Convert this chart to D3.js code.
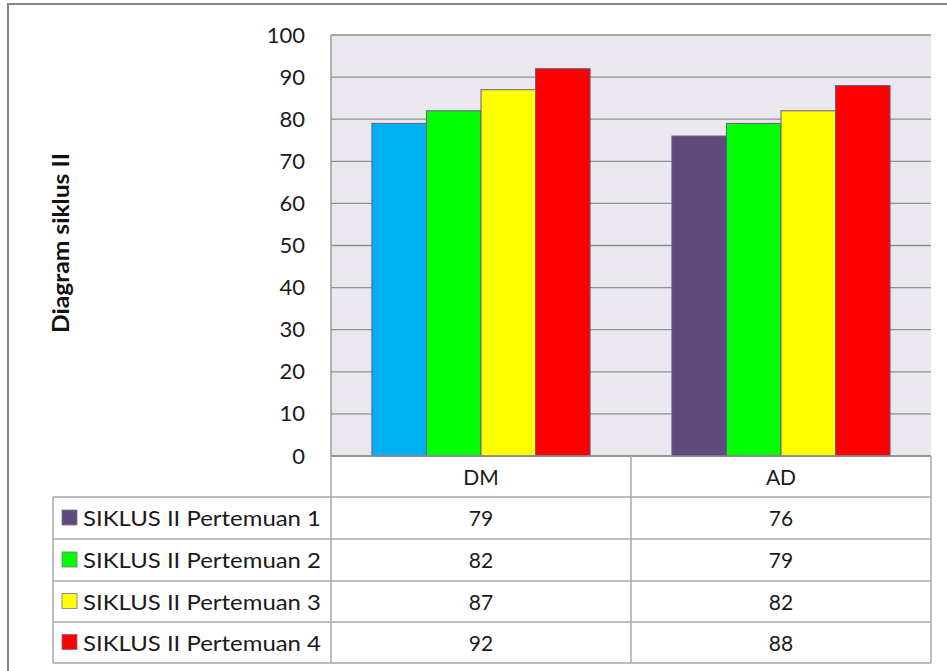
<!DOCTYPE html>
<html><head><meta charset="utf-8">
<script src="https://cdn.jsdelivr.net/npm/d3@7"></script>
<style>html,body{margin:0;padding:0;background:#fff;overflow:hidden}</style>
</head><body>
<svg id="c" width="947" height="671"></svg>
<script>
const categories = ["DM", "AD"];
const seriesNames = ["SIKLUS II Pertemuan 1", "SIKLUS II Pertemuan 2", "SIKLUS II Pertemuan 3", "SIKLUS II Pertemuan 4"];
const valuesP1 = [79, 76];
const valuesP2 = [82, 79];
const valuesP3 = [87, 82];
const valuesP4 = [92, 88];
const yTicks = [0, 10, 20, 30, 40, 50, 60, 70, 80, 90, 100];
const axisTitle = "Diagram siklus II";

const seriesValues = [valuesP1, valuesP2, valuesP3, valuesP4];
const seriesColors = ["#604A7B", "#00FF00", "#FFFF00", "#FF0000"];
const firstPointColor = "#00B0F0"; // DM bar of series 1 is shown in blue

const svg = d3.select("#c");
const FONT = "Lato, 'Open Sans', sans-serif";
const textColor = "#1a1a1a";

// outer frame
svg.append("rect").attr("x", 8).attr("y", 4).attr("width", 960).attr("height", 700)
  .attr("fill", "#fff").attr("stroke", "#858585").attr("stroke-width", 2);

const L = 331, T = 35, W = 600, H = 421;
const g = svg.append("g").attr("transform", `translate(${L},${T})`);
g.append("rect").attr("width", W).attr("height", H).attr("fill", "#EAE8EE");

const y = d3.scaleLinear().domain([0, 100]).range([H, 0]);
const x0 = d3.scaleBand().domain(categories).range([0, W]);
const x1 = d3.scaleBand().domain(seriesNames).range([0, x0.bandwidth()]).paddingInner(0).paddingOuter(0.75);

// gridlines
g.selectAll(".grid").data(yTicks).join("line")
  .attr("x1", 0).attr("x2", W).attr("y1", d => y(d)).attr("y2", d => y(d))
  .attr("stroke", "#8e8e8e").attr("stroke-width", 1.3);
g.append("line").attr("x1", 0).attr("x2", 0).attr("y1", 0).attr("y2", H)
  .attr("stroke", "#8e8e8e").attr("stroke-width", 1.3);

// y axis labels
const yAxis = d3.axisLeft(y).tickValues(yTicks).tickSize(0).tickPadding(26);
const ya = g.append("g").call(yAxis);
ya.select(".domain").remove();
ya.selectAll("text").attr("font-family", FONT).attr("font-size", 22).attr("fill", textColor);

// bars
const data = [];
categories.forEach((c, ci) => seriesNames.forEach((s, si) => {
  data.push({c, s, si, ci, v: seriesValues[si][ci]});
}));
g.selectAll(".bar").data(data).join("rect")
  .attr("x", d => x0(d.c) + x1(d.s))
  .attr("width", x1.bandwidth())
  .attr("y", d => y(d.v))
  .attr("height", d => y(0) - y(d.v))
  .attr("fill", d => (d.si === 0 && d.ci === 0) ? firstPointColor : seriesColors[d.si])
  .attr("stroke", "#6a5c88").attr("stroke-width", 1);

// axis title
svg.append("text").attr("transform", "translate(69,243) rotate(-90)")
  .attr("text-anchor", "middle").attr("font-family", FONT).attr("font-weight", "bold")
  .attr("font-size", 22).attr("fill", "#111")
  .attr("textLength", 180).attr("lengthAdjust", "spacingAndGlyphs").text(axisTitle);

// data table
const rowH = [456, 497, 539, 581, 622, 663];
const tableLeft = 53, colX = L, right = L + W;
const lineC = "#a8a8a8";
const tg = svg.append("g");
rowH.slice(1).forEach(yy => tg.append("line").attr("x1", tableLeft).attr("x2", right)
  .attr("y1", yy).attr("y2", yy).attr("stroke", lineC).attr("stroke-width", 1.5));
tg.append("line").attr("x1", colX).attr("x2", right).attr("y1", rowH[0]).attr("y2", rowH[0])
  .attr("stroke", "#8e8e8e").attr("stroke-width", 1.3);
tg.append("line").attr("x1", tableLeft).attr("x2", tableLeft).attr("y1", rowH[1]).attr("y2", rowH[5]).attr("stroke", lineC).attr("stroke-width", 1.5);
[colX, L + x0("AD"), right].forEach(xx => tg.append("line").attr("x1", xx).attr("x2", xx)
  .attr("y1", rowH[0]).attr("y2", rowH[5]).attr("stroke", lineC).attr("stroke-width", 1.5));

// header
categories.forEach(c => tg.append("text").attr("x", L + x0(c) + x0.bandwidth() / 2).attr("y", (rowH[0] + rowH[1]) / 2 + 8)
  .attr("text-anchor", "middle").attr("font-family", FONT).attr("font-size", 21).attr("fill", textColor).text(c));

// rows
seriesNames.forEach((s, si) => {
  const cy = (rowH[si + 1] + rowH[si + 2]) / 2;
  tg.append("rect").attr("x", 62).attr("y", cy - 8).attr("width", 15).attr("height", 15)
    .attr("fill", seriesColors[si]).attr("stroke", "#7a6c96").attr("stroke-width", 0.8);
  tg.append("text").attr("x", 83).attr("y", cy + 8).attr("font-family", FONT).attr("font-size", 21)
    .attr("fill", textColor).attr("textLength", 238).attr("lengthAdjust", "spacingAndGlyphs").text(s);
  categories.forEach((c, ci) => tg.append("text").attr("x", L + x0(c) + x0.bandwidth() / 2).attr("y", cy + 8)
    .attr("text-anchor", "middle").attr("font-family", FONT).attr("font-size", 21).attr("fill", textColor)
    .text(seriesValues[si][ci]));
});
</script>
</body></html>
